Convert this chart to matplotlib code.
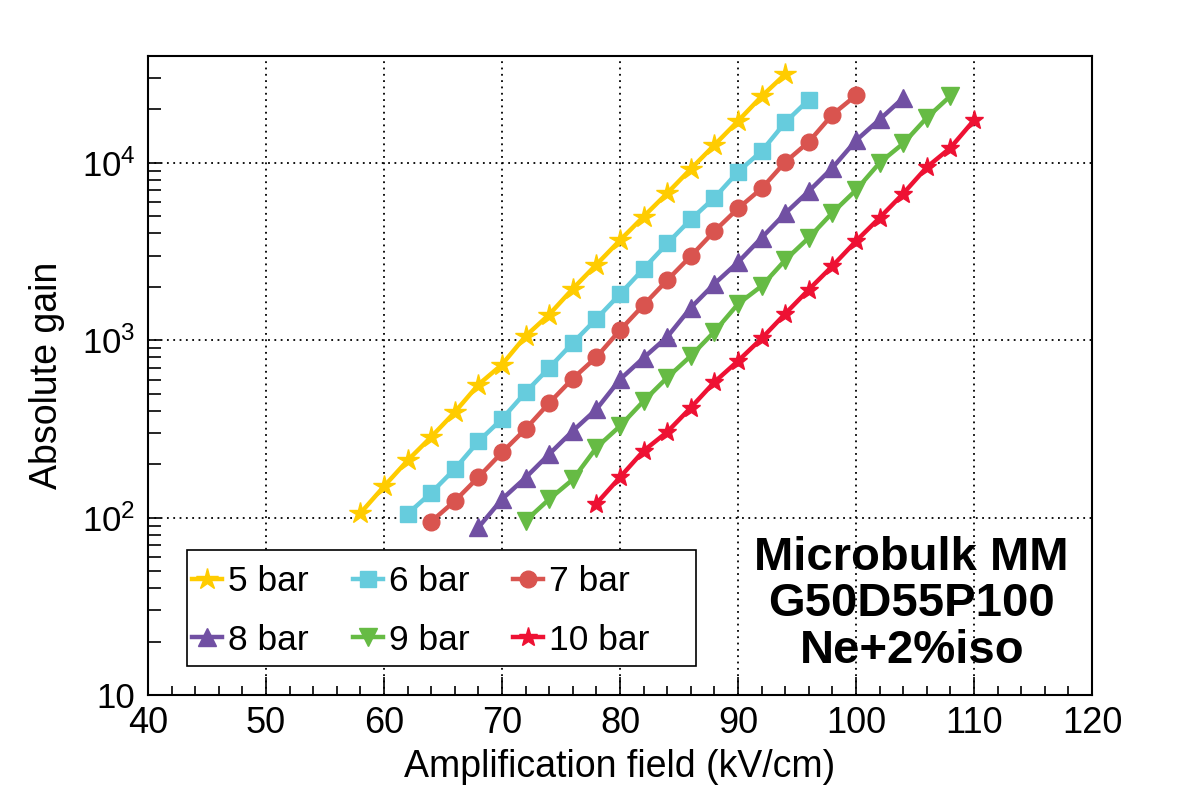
import matplotlib
matplotlib.use('Agg')
import matplotlib.pyplot as plt
from matplotlib.patches import Rectangle
from matplotlib.ticker import LogLocator, MultipleLocator, FixedLocator, FixedFormatter

plt.rcParams['font.family'] = ['Liberation Sans', 'DejaVu Sans']
plt.rcParams['mathtext.fontset'] = 'custom'
plt.rcParams['mathtext.rm'] = 'Liberation Sans'
plt.rcParams['mathtext.it'] = 'Liberation Sans'

# gain vs amplification field, one series per pressure
field_5 = list(range(58, 95, 2))
gain_5 = [106, 150, 210, 285, 393, 562, 729, 1055, 1396, 1950, 2670, 3660,
          4980, 6740, 9240, 12600, 17200, 23700, 31600]
field_6 = list(range(62, 97, 2))
gain_6 = [105, 138, 188, 269, 360, 509, 699, 966, 1320, 1820, 2530, 3510,
          4800, 6350, 8900, 11630, 16900, 22700]
field_7 = list(range(64, 101, 2))
gain_7 = [95, 124, 169, 233, 316, 443, 608, 803, 1140, 1580, 2180, 2980,
          4120, 5530, 7170, 10100, 13130, 18700, 24000]
field_8 = list(range(68, 105, 2))
gain_8 = [88, 127, 168, 228, 308, 408, 601, 796, 1043, 1525, 2080, 2750,
          3780, 5190, 6920, 9370, 13360, 17550, 23200]
field_9 = list(range(72, 109, 2))
gain_9 = [96, 127, 164, 248, 328, 454, 615, 815, 1117, 1600, 2020, 2830,
          3780, 5230, 7020, 10000, 12850, 17950, 23800]
field_10 = list(range(78, 111, 2))
gain_10 = [120, 169, 238, 304, 417, 581, 764, 1023, 1410, 1930, 2620, 3620,
           4900, 6710, 9450, 12150, 17400]

fig = plt.figure(figsize=(11.82, 8), dpi=100)
ax = fig.add_axes([0.1252, 0.13125, 0.7987, 0.79875])

lw = 3.2
h5, = ax.plot(field_5, gain_5, '-*', color='#FFCC00', lw=lw, ms=16, label='5 bar')
h6, = ax.plot(field_6, gain_6, '-s', color='#66CCDD', lw=lw, ms=11.5, label='6 bar')
h7, = ax.plot(field_7, gain_7, '-o', color='#D9544F', lw=lw, ms=12, label='7 bar')
h8, = ax.plot(field_8, gain_8, '-^', color='#7150A3', lw=lw, ms=12.5, label='8 bar')
h9, = ax.plot(field_9, gain_9, '-v', color='#66BB44', lw=lw, ms=12.5, label='9 bar')
h10, = ax.plot(field_10, gain_10, '-*', color='#EE1133', lw=lw, ms=14, label='10 bar')

ax.set_xlim(40, 120)
ax.set_yscale('log')
ax.set_ylim(10, 40000)

ax.xaxis.set_major_locator(MultipleLocator(10))
ax.xaxis.set_minor_locator(MultipleLocator(2))
ax.yaxis.set_major_locator(FixedLocator([10, 100, 1000, 10000]))
ax.yaxis.set_major_formatter(FixedFormatter(['10', '$10^2$', '$10^3$', '$10^4$']))
ax.yaxis.set_minor_locator(LogLocator(base=10, subs=range(2, 10)))
ax.yaxis.set_minor_formatter(FixedFormatter([]))

ax.tick_params(axis='x', which='major', direction='in', length=13, width=1.2,
               labelsize=26, pad=8)
ax.tick_params(axis='x', which='minor', direction='in', length=6.5, width=1.2)
ax.tick_params(axis='y', which='both', direction='in', length=9, width=1.2,
               labelsize=25, pad=9)

ax.grid(True, which='major', color='black', linestyle=(0, (1, 2.5)), lw=1.3)
for s in ax.spines.values():
    s.set_linewidth(1.5)

ax.set_xlabel('Amplification field (kV/cm)', fontsize=27, labelpad=6)
ax.set_ylabel('Absolute gain', fontsize=27, labelpad=12)

# legend frame (ROOT style box, fixed size)
ax.add_patch(Rectangle((0.0413, 0.0454), 0.5392, 0.1815, transform=ax.transAxes,
                       facecolor='white', edgecolor='black', lw=1.2, zorder=4))
handles = [h5, h8, h6, h9, h7, h10]
leg = ax.legend(handles=handles, labels=[h.get_label() for h in handles], ncol=3,
                loc='upper left', bbox_to_anchor=(0.0466, 0.2034), fontsize=25.5,
                frameon=False, handlelength=0.85, handletextpad=0.17,
                columnspacing=1.24, borderpad=0, labelspacing=0.73, borderaxespad=0)
leg.set_zorder(5)

ax.text(0.809, 0.142, 'Microbulk MM\nG50D55P100\nNe+2%iso', transform=ax.transAxes,
        ha='center', va='center', fontsize=34, fontweight='bold', linespacing=1.08)

fig.savefig('out.png', dpi=100)
